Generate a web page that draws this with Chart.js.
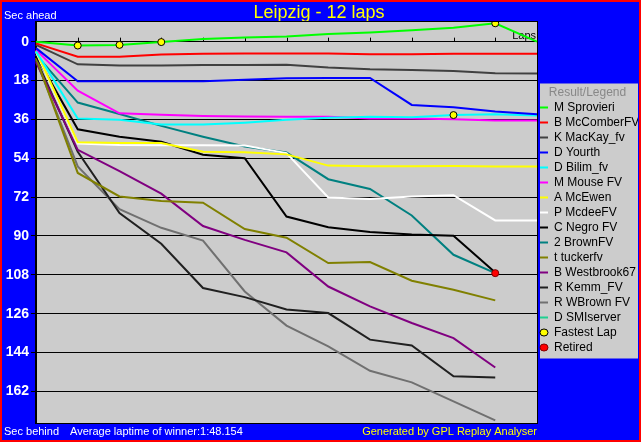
<!DOCTYPE html>
<html>
<head>
<meta charset="utf-8">
<title>Leipzig - 12 laps</title>
<script src="https://cdn.jsdelivr.net/npm/chart.js@4.4.1/dist/chart.umd.min.js"></script>
<style>
  html, body { margin: 0; padding: 0; background: #0000ff; overflow: hidden; }
  canvas { display: block; }
</style>
</head>
<body>
<canvas id="chart" width="641" height="442"></canvas>
<script>
// laps and y tick values
const laps = [0, 1, 2, 3, 4, 5, 6, 7, 8, 9, 10, 11, 12];
const yTicks = [0, 18, 36, 54, 72, 90, 108, 126, 144, 162];

// seconds behind the leader at each lap (negative = ahead)
const sprovieri = [0, 1.8, 1.5, 0.2, -1.2, -1.9, -2.4, -3.5, -4.2, -5.3, -6.4, -8.5, 0];
const mccomber = [0.8, 7.0, 7.0, 6.0, 5.6, 5.5, 5.5, 5.5, 5.8, 5.8, 5.6, 5.6, 5.6];
const mackay = [1.5, 10.5, 11.0, 11.0, 10.8, 10.8, 10.7, 12.0, 12.8, 13.1, 13.6, 14.6, 14.8];
const yourth = [3.0, 18.3, 18.3, 18.3, 18.3, 17.6, 16.9, 16.8, 16.8, 29.3, 30.4, 32.4, 33.6];
const bilim = [4.5, 35.6, 36.2, 38.4, 38.4, 37.5, 36.2, 35.2, 34.8, 35.0, 34.0, 33.6, 34.2];
const mouse = [3.8, 22.7, 33.2, 33.8, 34.4, 34.7, 34.8, 34.8, 35.6, 35.6, 35.9, 36.5, 36.5];
const mcewen = [4.2, 46.6, 46.9, 46.9, 51.0, 51.2, 52.2, 57.4, 57.7, 57.7, 57.6, 57.8, 57.8];
const mcdee = [4.8, 47.2, 47.9, 48.0, 48.0, 48.1, 51.6, 72.2, 72.9, 71.7, 71.1, 82.8, 82.8];
const negro = [6.5, 40.6, 44.0, 46.4, 52.4, 54.0, 81.0, 85.9, 88.1, 89.3, 89.9, 106.9, null];
const brown = [6.0, 28.2, 33.5, 39.0, 44.0, 48.6, 51.3, 63.7, 68.2, 80.5, 98.7, 107.2, null];
const tucker = [7.5, 60.8, 71.7, 73.8, 74.6, 86.8, 90.8, 102.5, 102.1, 110.7, 114.9, 119.8, null];
const westbrook = [9.5, 50.1, 60.0, 70.4, 85.4, 91.8, 97.6, 113.4, 122.6, 130.3, 137.3, 150.9, null];
const kemm = [8.0, 51.0, 79.4, 93.6, 114.1, 118.3, 124.0, 125.7, 138.0, 140.7, 155.0, 155.5, null];
const wbrown = [8.5, 57.8, 77.6, 86.2, 92.1, 115.7, 131.5, 141.1, 152.4, 157.8, 166.6, 175.4, null];
const smiserver = [null, null, null, null, null, null, null, null, null, null, null, null, null];

// markers
const fastestLap = [null, 1.8, 1.5, 0.2, null, null, null, null, null, null, 34.0, -8.5, null];
const retired = [null, null, null, null, null, null, null, null, null, null, null, 107.2, null];

const FONT = "'Liberation Sans', Arial, sans-serif";

function line(label, data, color) {
  return {
    label: label,
    data: data,
    borderColor: color,
    backgroundColor: color,
    borderWidth: 2,
    pointRadius: 0,
    tension: 0,
    spanGaps: false
  };
}

function markers(label, data, fill, stroke) {
  return {
    label: label,
    data: data,
    marker: true,
    showLine: false,
    pointRadius: 3.5,
    pointBorderWidth: 1,
    pointBackgroundColor: fill,
    pointBorderColor: stroke,
    borderColor: stroke,
    backgroundColor: fill,
    order: -1
  };
}

const datasets = [
  line('M Sprovieri', sprovieri, '#00ff00'),
  line('B McComberFV', mccomber, '#ff0000'),
  line('K MacKay_fv', mackay, '#404040'),
  line('D Yourth', yourth, '#0000ff'),
  line('D Bilim_fv', bilim, '#00ffff'),
  line('M Mouse FV', mouse, '#ff00ff'),
  line('A McEwen', mcewen, '#ffff00'),
  line('P McdeeFV', mcdee, '#ffffff'),
  line('C Negro FV', negro, '#000000'),
  line('2 BrownFV', brown, '#008080'),
  line('t tuckerfv', tucker, '#808000'),
  line('B Westbrook67', westbrook, '#800080'),
  line('R Kemm_FV', kemm, '#202020'),
  line('R WBrown FV', wbrown, '#707070'),
  line('D SMIserver', smiserver, '#20d090'),
  markers('Fastest Lap', fastestLap, '#ffff00', '#000000'),
  markers('Retired', retired, '#ff0000', '#800000')
];

// blue page, gray plot, legend box, lap ticks and footer texts
const decorations = {
  id: 'decorations',
  beforeDraw(chart) {
    const ctx = chart.ctx;
    const a = chart.chartArea;
    ctx.save();
    ctx.fillStyle = '#0000ff';
    ctx.fillRect(0, 0, chart.width, chart.height);
    ctx.fillStyle = '#cccccc';
    ctx.fillRect(a.left, a.top, a.right - a.left, a.bottom - a.top);
    const lg = chart.legend;
    const boxes = lg.legendHitBoxes;
    const last = boxes[boxes.length - 1];
    const top = boxes[0].top - 18;
    ctx.fillRect(lg.left + 3, top, lg.right - lg.left - 3, last.top + last.height + 5 - top);
    ctx.restore();
  },
  beforeDatasetsDraw(chart) {
    const ctx = chart.ctx;
    const a = chart.chartArea;
    const x = chart.scales.x;
    const y0 = chart.scales.y.getPixelForValue(0);
    ctx.save();
    ctx.strokeStyle = '#000000';
    ctx.lineWidth = 1;
    ctx.strokeRect(a.left - 0.5, a.top - 0.5, a.right - a.left + 1, a.bottom - a.top + 1);
    ctx.beginPath();
    for (let i = 1; i < laps.length; i++) {
      const px = Math.round(x.getPixelForValue(i)) + 0.5;
      ctx.moveTo(px, y0 - 4);
      ctx.lineTo(px, y0);
    }
    ctx.stroke();
    ctx.fillStyle = '#000000';
    ctx.font = '11px ' + FONT;
    ctx.textAlign = 'right';
    ctx.textBaseline = 'middle';
    ctx.fillText('Laps', a.right - 1, y0 - 6);
    ctx.restore();
  },
  afterDraw(chart) {
    const ctx = chart.ctx;
    const a = chart.chartArea;
    ctx.save();
    ctx.font = '11px ' + FONT;
    ctx.textBaseline = 'middle';
    ctx.fillStyle = '#ffffff';
    ctx.textAlign = 'left';
    ctx.fillText('Sec ahead', 4, 16);
    ctx.fillText('Sec behind', 4, 432);
    ctx.fillText('Average laptime of winner:1:48.154', 70, 432);
    ctx.fillStyle = '#ffff00';
    ctx.textAlign = 'right';
    ctx.fillText('Generated by GPL Replay Analyser', a.right, 432);
    ctx.strokeStyle = '#ff0000';
    ctx.lineWidth = 2;
    ctx.strokeRect(1, 1, chart.width - 2, chart.height - 2);
    ctx.restore();
  }
};

function initChart() {
  const ctx = document.getElementById('chart').getContext('2d');
  return new Chart(ctx, {
    type: 'line',
    data: { labels: laps, datasets: datasets },
    options: {
      responsive: false,
      animation: false,
      devicePixelRatio: 1,
      layout: { padding: { left: 0, right: 3, top: 0, bottom: 19 } },
      scales: {
        x: { type: 'category', display: false },
        y: {
          reverse: true,
          min: -9.1,
          max: 176.6,
          afterBuildTicks: (scale) => { scale.ticks = yTicks.map((v) => ({ value: v })); },
          afterFit: (scale) => { scale.width = 36; },
          grid: { color: '#000000', lineWidth: 1, drawTicks: true, tickLength: 5, tickColor: '#000000' },
          border: { display: true, color: '#000000' },
          ticks: { color: '#ffffff', padding: 2, autoSkip: false, font: { family: FONT, size: 14, weight: 'bold' } }
        }
      },
      plugins: {
        tooltip: { enabled: false },
        title: {
          display: true,
          text: 'Leipzig - 12 laps',
          color: '#ffff00',
          font: { family: FONT, size: 18, weight: 'normal', lineHeight: 1 },
          padding: { top: 4, bottom: 0 }
        },
        legend: {
          position: 'right',
          align: 'center',
          maxWidth: 101,
          onClick: null,
          title: {
            display: true,
            text: 'Result/Legend',
            color: '#888888',
            position: 'center',
            padding: { top: 20, bottom: 0 },
            font: { family: FONT, size: 12, lineHeight: 1 }
          },
          labels: {
            usePointStyle: true,
            pointStyleWidth: 8,
            boxHeight: 5,
            padding: 3,
            color: '#000000',
            font: { family: FONT, size: 12 },
            generateLabels: (chart) => chart.data.datasets.map((ds, i) => ({
              text: ds.label,
              fillStyle: ds.marker ? ds.pointBackgroundColor : ds.borderColor,
              strokeStyle: ds.marker ? ds.pointBorderColor : ds.borderColor,
              fontColor: '#000000',
              lineWidth: ds.marker ? 1 : 2,
              pointStyle: ds.marker ? 'circle' : 'line',
              hidden: false,
              datasetIndex: i
            }))
          }
        }
      }
    },
    plugins: [decorations]
  });
}

document.addEventListener('DOMContentLoaded', () => initChart());
</script>
</body>
</html>
